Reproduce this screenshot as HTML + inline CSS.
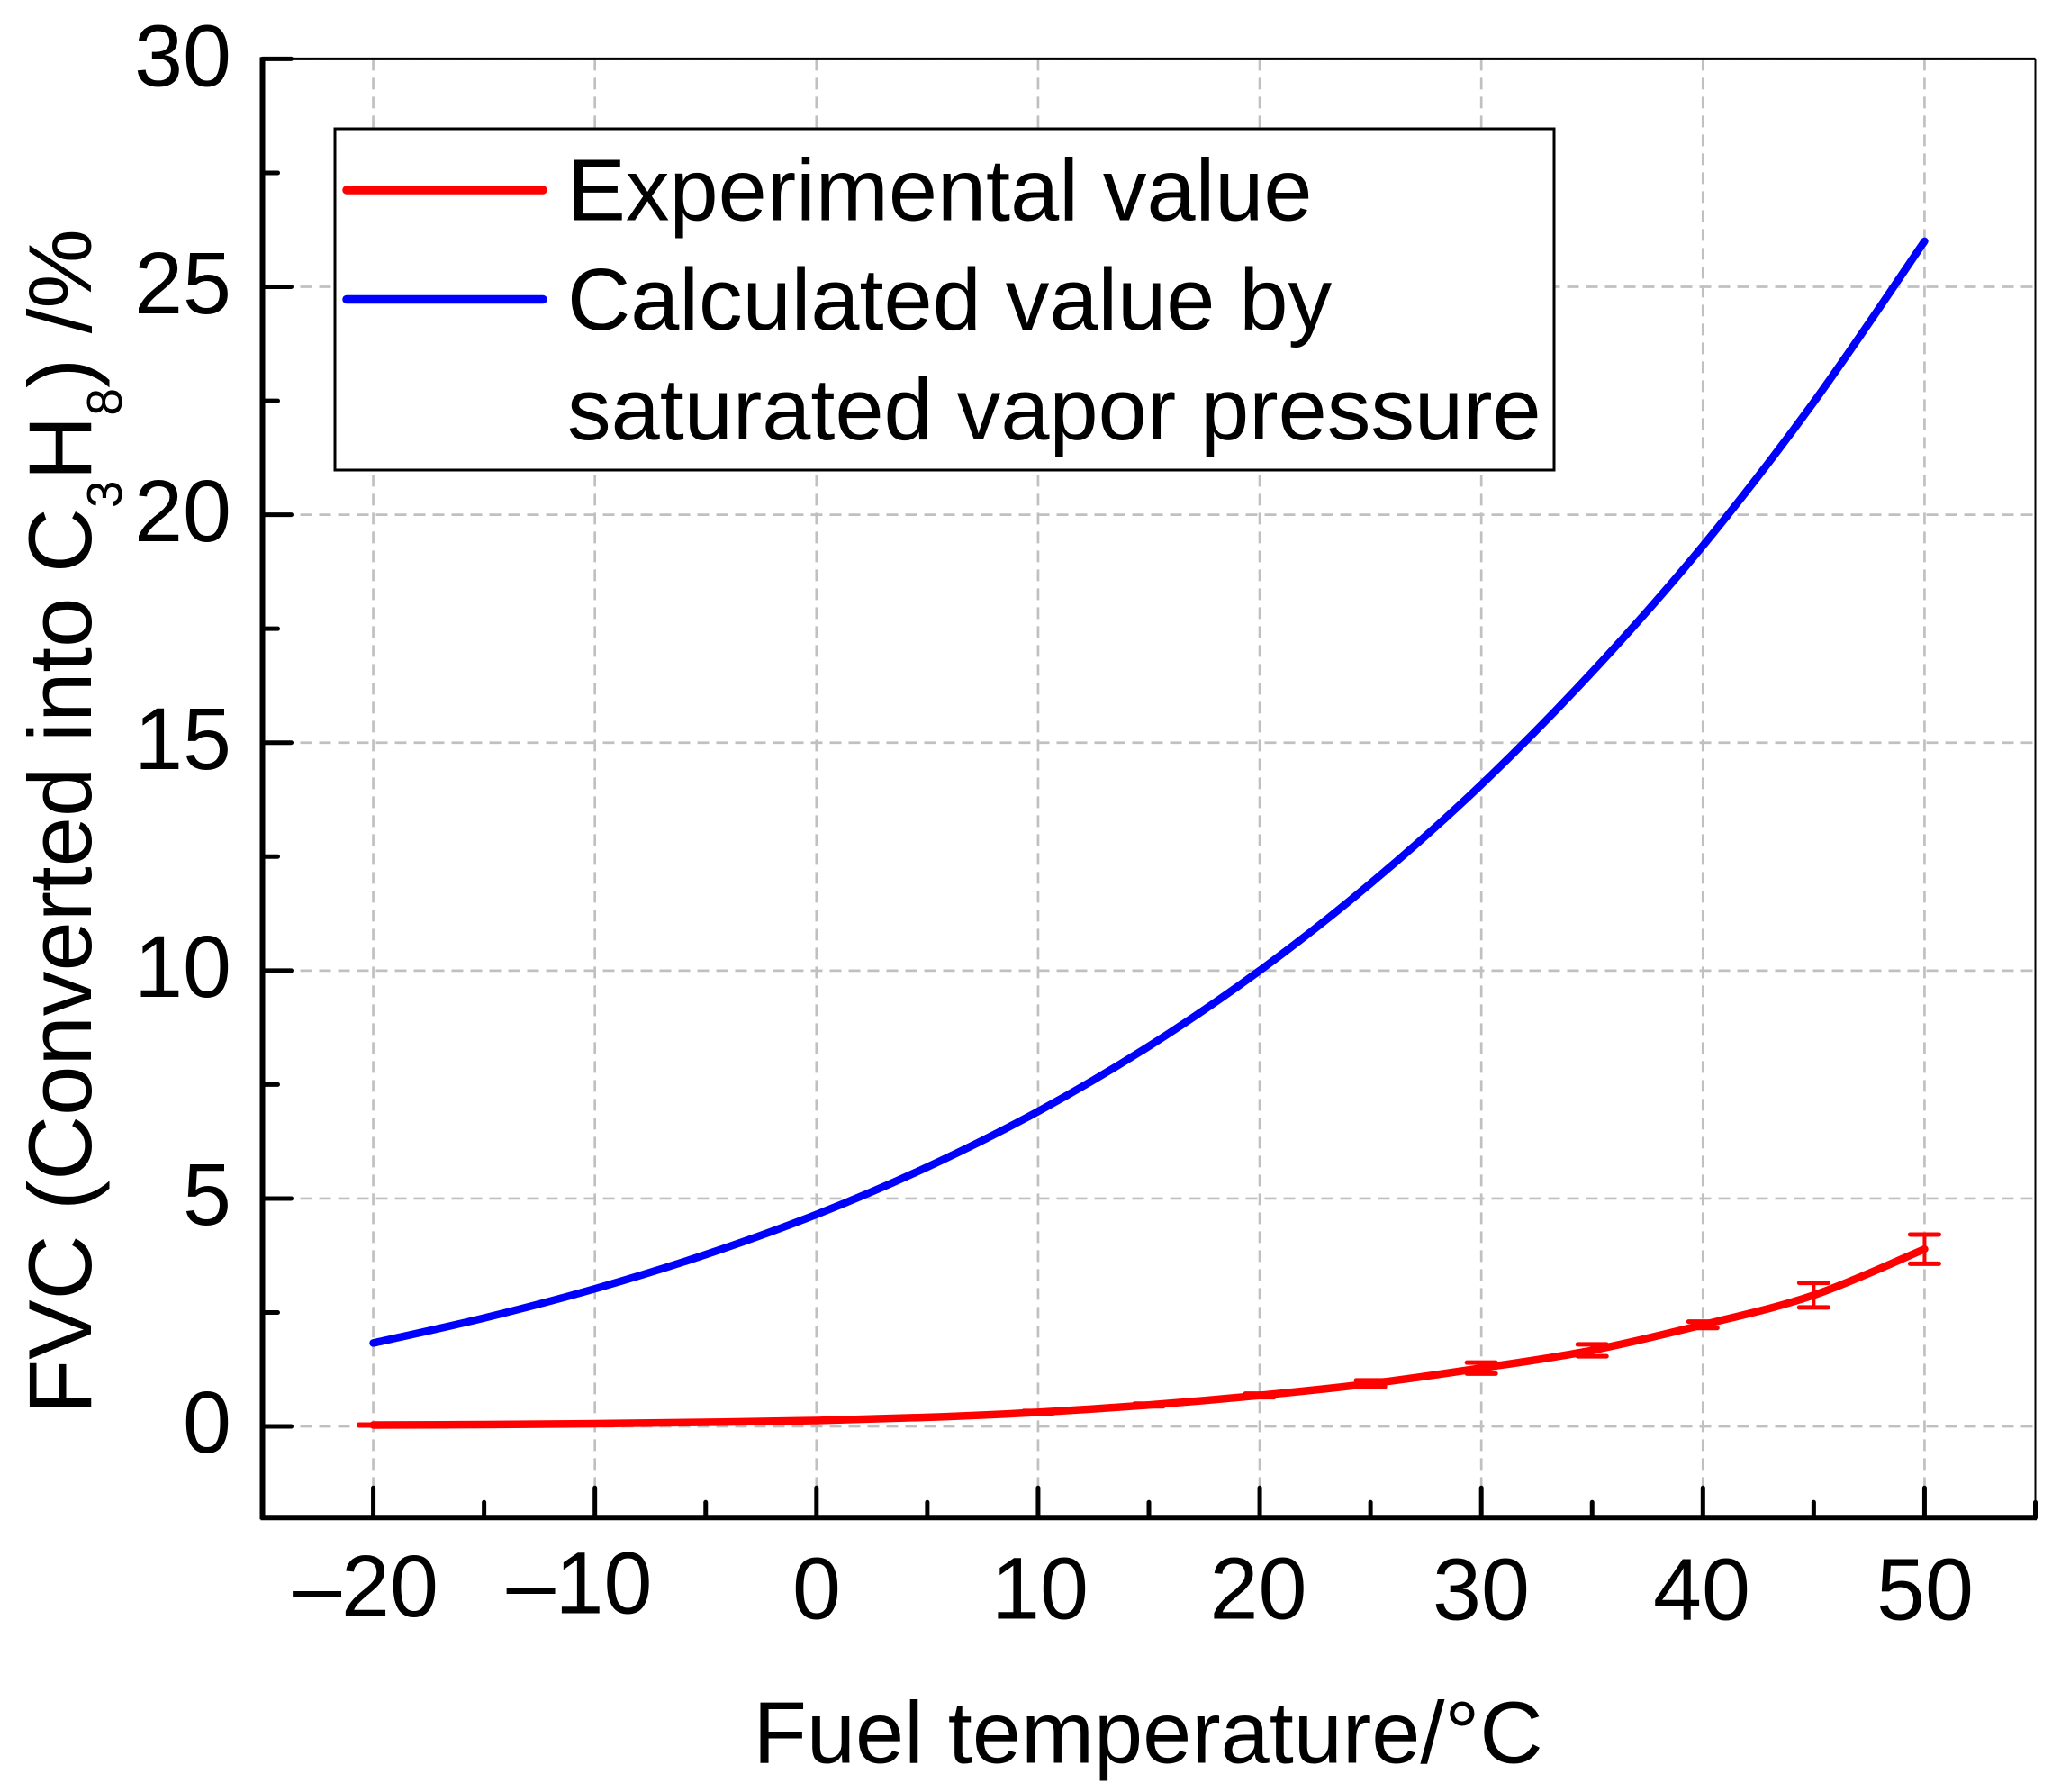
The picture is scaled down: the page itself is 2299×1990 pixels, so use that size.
<!DOCTYPE html>
<html lang="en">
<head>
<meta charset="utf-8">
<title>FVC vs fuel temperature</title>
<style>
  html, body { margin: 0; padding: 0; background: #fff; }
  svg { display: block; }
  text { font-family: "Liberation Sans", Arial, sans-serif; fill: #000; }
</style>
</head>
<body>
<svg id="chart" xmlns="http://www.w3.org/2000/svg" width="2299" height="1990" viewBox="0 0 2299 1990">
  <rect x="0" y="0" width="2299" height="1990" fill="#fff"/>
  <g id="grid"></g>
  <g id="frame"></g>
  <g id="series"></g>

  <g>
    <rect x="372" y="143" width="1354" height="379" fill="#fff" stroke="#000" stroke-width="3"/>
    <line x1="385" y1="211" x2="603" y2="211" stroke="#ff0000" stroke-width="9.5" stroke-linecap="round"/>
    <line x1="385" y1="332.5" x2="603" y2="332.5" stroke="#0000ff" stroke-width="9.5" stroke-linecap="round"/>
    <text x="630" y="244.5" font-size="97.3">Experimental value</text>
    <text x="630" y="366" font-size="97.3">Calculated value by</text>
    <text x="630" y="488" font-size="97.3">saturated vapor pressure</text>
  </g>

  <g font-size="97" text-anchor="end">
    <text x="257" y="95.5">30</text>
    <text x="257" y="348">25</text>
    <text x="257" y="601">20</text>
    <text x="257" y="854">15</text>
    <text x="257" y="1107">10</text>
    <text x="257" y="1360">5</text>
    <text x="257" y="1613">0</text>
  </g>

  <g font-size="97" text-anchor="middle">
    <text x="406" y="1795">–20</text>
    <text x="643.5" y="1791.5">–10</text>
    <text x="907" y="1797.5">0</text>
    <text x="1155" y="1797.5">10</text>
    <text x="1397.5" y="1797.5">20</text>
    <text x="1645" y="1798.5">30</text>
    <text x="1890" y="1798.5">40</text>
    <text x="2138" y="1798.5">50</text>
  </g>

  <text x="836.5" y="1957.5" font-size="97.3">Fuel temperature/°C</text>
  <text transform="translate(101 1570.5) rotate(-90)" font-size="99.5">FVC (Converted into C<tspan font-size="55" dy="34">3</tspan><tspan dy="-34">H</tspan><tspan font-size="55" dy="34">8</tspan><tspan dy="-34">) /%</tspan></text>
</svg>

<script>
// Chart data
const temperatures = [-20, -15, -10, -5, 0, 5, 10, 15, 20, 25, 30, 35, 40, 45, 50];
const experimentalValues = [0.03, 0.04, 0.06, 0.09, 0.13, 0.2, 0.31, 0.47, 0.68, 0.94, 1.28, 1.67, 2.23, 2.88, 3.89];
const experimentalErrors = [0.01, 0.01, 0.01, 0.01, 0.02, 0.02, 0.03, 0.03, 0.04, 0.07, 0.12, 0.13, 0.07, 0.27, 0.32];
const calculatedValues = [1.83, 2.38, 3.02, 3.77, 4.65, 5.69, 6.91, 8.34, 10.0, 11.91, 14.08, 16.55, 19.32, 22.47, 26.0];
const xMajorTicks = [-20, -10, 0, 10, 20, 30, 40, 50];
const xMinorTicks = [-15, -5, 5, 15, 25, 35, 45, 55];
const yMajorTicks = [0, 5, 10, 15, 20, 25, 30];
const yMinorTicks = [2.5, 7.5, 12.5, 17.5, 22.5, 27.5];

const SVG_NS = 'http://www.w3.org/2000/svg';
const plot = { left: 291.5, right: 2260.5, top: 65.4, bottom: 1685.3 };
const xDomain = [-25, 55];
const yDomain = [-2, 30];

function xScale(v) {
  return plot.left + (v - xDomain[0]) / (xDomain[1] - xDomain[0]) * (plot.right - plot.left);
}
function yScale(v) {
  return plot.bottom - (v - yDomain[0]) / (yDomain[1] - yDomain[0]) * (plot.bottom - plot.top);
}
function makeLine(parent, x1, y1, x2, y2, color, width, cap, dash) {
  const el = document.createElementNS(SVG_NS, 'line');
  el.setAttribute('x1', x1);
  el.setAttribute('y1', y1);
  el.setAttribute('x2', x2);
  el.setAttribute('y2', y2);
  el.setAttribute('stroke', color);
  el.setAttribute('stroke-width', width);
  el.setAttribute('stroke-linecap', cap);
  if (dash) el.setAttribute('stroke-dasharray', dash);
  parent.appendChild(el);
  return el;
}
function smoothPath(xs, ys) {
  const pts = xs.map((x, i) => [xScale(x), yScale(ys[i])]);
  let d = 'M' + pts[0][0] + ' ' + pts[0][1];
  for (let i = 0; i < pts.length - 1; i++) {
    const p0 = pts[Math.max(0, i - 1)];
    const p1 = pts[i];
    const p2 = pts[i + 1];
    const p3 = pts[Math.min(pts.length - 1, i + 2)];
    const c1x = p1[0] + (p2[0] - p0[0]) / 6;
    const c1y = p1[1] + (p2[1] - p0[1]) / 6;
    const c2x = p2[0] - (p3[0] - p1[0]) / 6;
    const c2y = p2[1] - (p3[1] - p1[1]) / 6;
    d += ' C' + c1x + ' ' + c1y + ' ' + c2x + ' ' + c2y + ' ' + p2[0] + ' ' + p2[1];
  }
  return d;
}

const gridLayer = document.getElementById('grid');
const frameLayer = document.getElementById('frame');
const seriesLayer = document.getElementById('series');

// Gridlines
xMajorTicks.forEach(function (t) {
  const el = makeLine(gridLayer, xScale(t), plot.top, xScale(t), plot.bottom, '#c0c0c0', 2.7, 'butt', '13 8');
  
  
});
yMajorTicks.forEach(function (t) {
  const el = makeLine(gridLayer, plot.left, yScale(t), plot.right, yScale(t), '#c0c0c0', 2.7, 'butt', '13 8');
  
  
});

// Axes
const topAxis = makeLine(frameLayer, plot.left, plot.top, plot.right, plot.top, '#000', 3, 'butt');


const rightAxis = makeLine(frameLayer, plot.right, plot.top, plot.right, plot.bottom, '#000', 2, 'butt');


const leftAxis = makeLine(frameLayer, plot.left, plot.top - 2, plot.left, plot.bottom + 2, '#000', 6, 'butt');


const bottomAxis = makeLine(frameLayer, plot.left - 2, plot.bottom, plot.right + 1.5, plot.bottom, '#000', 6, 'butt');



// Ticks
xMajorTicks.forEach(function (t) {
  const el = makeLine(frameLayer, xScale(t), plot.bottom, xScale(t), plot.bottom - 33, '#000', 5, 'round');
  
  
});
xMinorTicks.forEach(function (t) {
  const el = makeLine(frameLayer, xScale(t), plot.bottom, xScale(t), plot.bottom - 17, '#000', 5, 'round');
  
  
});
yMajorTicks.forEach(function (t) {
  const el = makeLine(frameLayer, plot.left, yScale(t), plot.left + 32, yScale(t), '#000', 5, 'round');
  
  
});
yMinorTicks.forEach(function (t) {
  const el = makeLine(frameLayer, plot.left, yScale(t), plot.left + 17, yScale(t), '#000', 5, 'round');
  
  
});

// Error bars for the experimental series
temperatures.forEach(function (t, i) {
  const cx = xScale(t);
  const hi = yScale(experimentalValues[i] + experimentalErrors[i]);
  const lo = yScale(experimentalValues[i] - experimentalErrors[i]);
  const stem = makeLine(seriesLayer, cx, hi, cx, lo, '#ff0000', 4, 'butt');
  
  
  const capTop = makeLine(seriesLayer, cx - 16, hi, cx + 16, hi, '#ff0000', 5, 'round');
  
  
  const capBottom = makeLine(seriesLayer, cx - 16, lo, cx + 16, lo, '#ff0000', 5, 'round');
  
  
});

// Series lines
const experimentalLine = document.createElementNS(SVG_NS, 'path');


experimentalLine.setAttribute('d', smoothPath(temperatures, experimentalValues));
experimentalLine.setAttribute('fill', 'none');
experimentalLine.setAttribute('stroke', '#ff0000');
experimentalLine.setAttribute('stroke-width', '8.5');
experimentalLine.setAttribute('stroke-linecap', 'round');
seriesLayer.appendChild(experimentalLine);

const calculatedLine = document.createElementNS(SVG_NS, 'path');


calculatedLine.setAttribute('d', smoothPath(temperatures, calculatedValues));
calculatedLine.setAttribute('fill', 'none');
calculatedLine.setAttribute('stroke', '#0000ff');
calculatedLine.setAttribute('stroke-width', '8.5');
calculatedLine.setAttribute('stroke-linecap', 'round');
seriesLayer.appendChild(calculatedLine);
</script>
</body>
</html>
